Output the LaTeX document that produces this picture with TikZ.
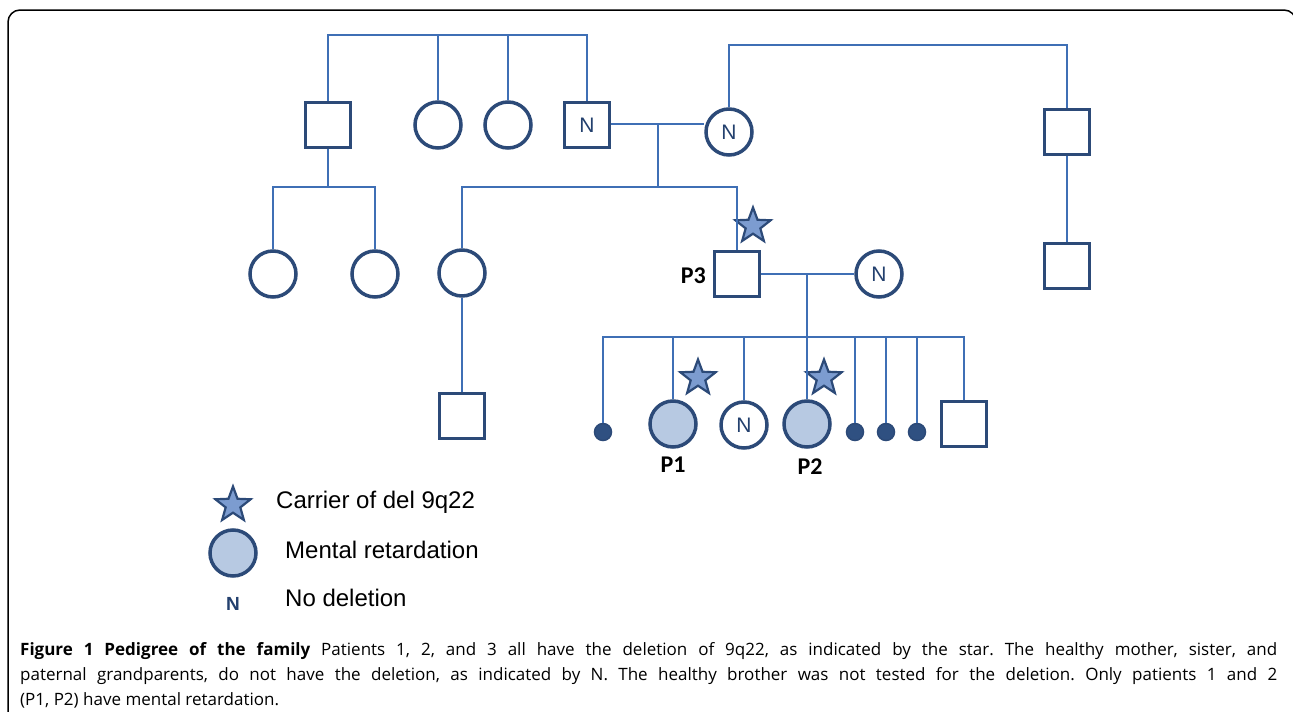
\documentclass[tikz,border=0pt]{standalone}
\usepackage{fontspec}
\setmainfont{Liberation Sans}
\newfontfamily\capfont{Open Sans}
\newfontfamily\labfont{Carlito}
\usetikzlibrary{shapes.geometric}
\definecolor{lineblue}{HTML}{3F6FB5}
\definecolor{shapeblue}{HTML}{2C4A78}
\definecolor{fillblue}{HTML}{B7C9E2}
\definecolor{starblue}{HTML}{7C9CD0}
\definecolor{textblue}{HTML}{23406E}
\tikzset{
	link/.style={draw=lineblue, line width=2.4pt},
	male/.style={rectangle, draw=shapeblue, line width=3.5pt, fill=white, minimum size=45pt, inner sep=0pt, font=\fontsize{21}{21}\selectfont, text=textblue},
	female/.style={circle, draw=shapeblue, line width=3.5pt, fill=white, minimum size=46pt, inner sep=0pt, font=\fontsize{21}{21}\selectfont, text=textblue},
	affected/.style={female, fill=fillblue},
	lost/.style={circle, draw=shapeblue, line width=1.5pt, fill=shapeblue!85!lineblue, minimum size=17pt, inner sep=0pt},
	carrier/.style={star, star points=5, star point ratio=2.4, draw=shapeblue, line width=2.2pt, fill=starblue, minimum size=37pt, inner sep=0pt},
	plabel/.style={font=\labfont\bfseries\fontsize{24}{24}\selectfont, inner sep=0pt},
	legtext/.style={anchor=west, font=\fontsize{24}{24}\selectfont, inner sep=0pt}
}

\begin{document}
\begin{tikzpicture}[x=1pt, y=-1pt]
		%%%%% START %%%%%
		\useasboundingbox (0,0) rectangle (1293,712);
		\draw[line width=1.5pt, rounded corners=12pt] (8,712) -- (8,10) -- (1296,10) -- (1296,712);
		
		% grandparents' generation
		\node[male] (gu1) at (328,125) {};
		\node[female] (ga1) at (438,125) {};
		\node[female] (ga2) at (508,125) {};
		\node[male] (gf) at (587,125) {N};
		\node[female] (gm) at (729,132) {N};
		\node[male] (gmb) at (1067,132) {};
		\node[male] (gmc) at (1067,266) {};
		
		\coordinate (top1) at (587,35);
		\draw[link] (gu1.north) |- (top1) -- (gf.north);
		\draw[link] (ga1.north) -- (ga1.north |- top1);
		\draw[link] (ga2.north) -- (ga2.north |- top1);
		\coordinate (top2) at (1067,45);
		\draw[link] (gm.north) |- (top2) -- (gmb.north);
		\draw[link] (gmb.south) -- (gmc.north);
		
		% parents' generation
		\node[female] (c1) at (273,274) {};
		\node[female] (c2) at (375,274) {};
		\node[female] (aunt) at (462,273) {};
		\node[male] (cousin) at (462,416) {};
		\node[male] (p3) at (737,274) {};
		\node[female] (wife) at (879,274) {N};
		\node[carrier] (s3) at (753,226) {};
		\node[plabel, anchor=east] (l3) at (706,276) {P3};
		
		\coordinate (sib0) at (328,187);
		\draw[link] (gu1.south) -- (sib0);
		\draw[link] (c1.north) |- (sib0) -| (c2.north);
		\coordinate (mar1) at (658,124);
		\coordinate (sib1) at (658,187);
		\draw[link] (gf.east |- mar1) -- (gm.west |- mar1);
		\draw[link] (mar1) -- (sib1);
		\draw[link] (aunt.north) |- (sib1) -| (p3.north);
		\draw[link] (aunt.south) -- (cousin.north);
		
		% children of P3
		\node[lost] (k1) at (603,432) {};
		\node[affected] (pt1) at (673,424) {};
		\node[female] (sis) at (744,425) {N};
		\node[affected] (pt2) at (807,424) {};
		\node[lost] (k5) at (855,432) {};
		\node[lost] (k6) at (886,432) {};
		\node[lost] (k7) at (917,432) {};
		\node[male] (bro) at (964,424) {};
		\node[carrier] (s1) at (698,378) {};
		\node[carrier] (s2) at (824,378) {};
		\node[plabel] (l1) at (673,465) {P1};
		\node[plabel] (l2) at (810,467) {P2};
		
		\coordinate (mar2) at (807,274);
		\coordinate (sib2) at (807,337);
		\draw[link] (p3.east) -- (wife.west);
		\draw[link] (mar2) -- (pt2.north);
		\draw[link] (k1.north) |- (sib2) -| (bro.north);
		\foreach \k in {pt1,sis,k5,k6,k7}
			\draw[link] (\k.north) -- (\k.north |- sib2);
		
		% legend
		\node[carrier] (ls) at (233,505) {};
		\node[affected] (lc) at (233,553) {};
		\node[font=\bfseries\fontsize{19}{19}\selectfont, text=textblue, inner sep=0pt] (ln) at (233,604) {N};
		\node[legtext] (t1) at (276,502) {Carrier of del 9q22};
		\node[legtext] (t2) at (285,550) {Mental retardation};
		\node[legtext] (t3) at (285,598) {No deletion};
		
		% caption
		\node[anchor=north west, inner sep=0pt, text width=1257pt, align=justify, font=\capfont\frenchspacing\fontsize{17}{25}\selectfont] (cap) at (20,642)
		{\textbf{Figure 1 Pedigree of the family} Patients 1, 2, and 3 all have the deletion of 9q22, as indicated by the star. The healthy mother, sister, and\linebreak paternal grandparents, do not have the deletion, as indicated by N. The healthy brother was not tested for the deletion. Only patients 1 and 2\linebreak (P1, P2) have mental retardation.};
		%%%%% END %%%%%
\end{tikzpicture}
\end{document}
